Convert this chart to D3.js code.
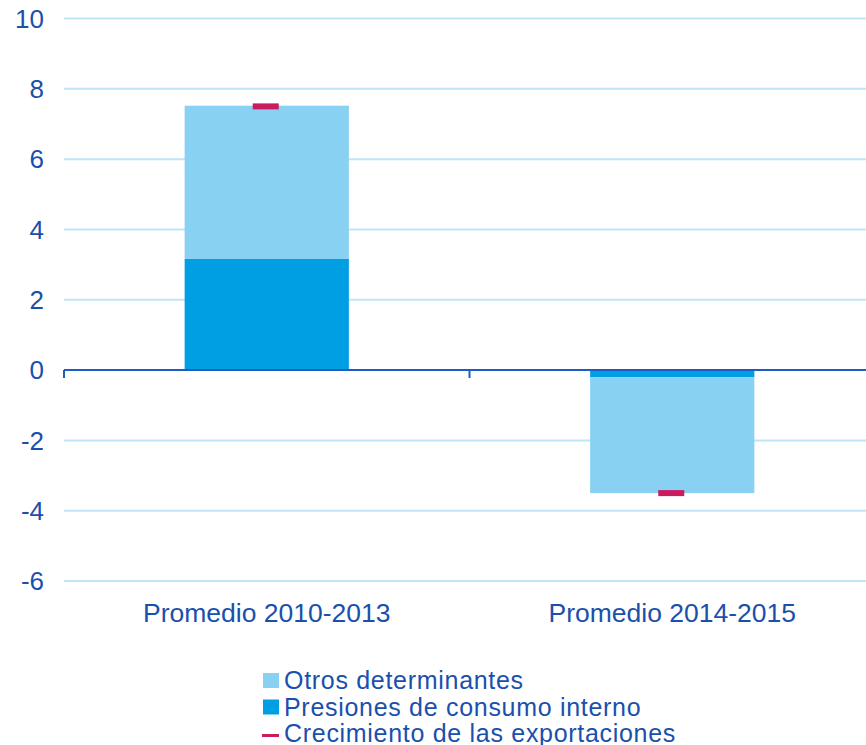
<!DOCTYPE html>
<html>
<head>
<meta charset="utf-8">
<script src="https://cdn.jsdelivr.net/npm/d3@7"></script>
<style>
  html, body { margin: 0; padding: 0; background: #fff; }
  svg { display: block; }
  text { font-family: "Liberation Sans", Arial, sans-serif; fill: #1A50AC; }
</style>
</head>
<body>
<svg id="chart" width="866" height="745"></svg>
<script>
// ---- data ----
const categories = ["Promedio 2010-2013", "Promedio 2014-2015"];
const presiones = [3.16, -0.2];          // Presiones de consumo interno
const otros = [4.36, -3.3];              // Otros determinantes
const exportaciones = [7.5, -3.5];       // Crecimiento de las exportaciones
const yTicks = [-6, -4, -2, 0, 2, 4, 6, 8, 10];
const legendLabels = ["Otros determinantes", "Presiones de consumo interno", "Crecimiento de las exportaciones"];

// ---- styles ----
const C_LIGHT = "#89D1F3", C_DARK = "#009FE3", C_MARK = "#CC1A5E";
const C_GRID = "#BEE6F8", C_AXIS = "#1F5CC0";

const svg = d3.select("#chart");
const W = 866;

const y = d3.scaleLinear().domain([-6, 10]).range([581, 18.5]);
const x = d3.scaleBand().domain(categories).range([64, 875]).padding(0);
const barW = x.bandwidth() * 0.405;

// gridlines
svg.append("g").selectAll("line").data(yTicks.filter(d => d !== 0)).join("line")
  .attr("x1", 64).attr("x2", W)
  .attr("y1", d => y(d)).attr("y2", d => y(d))
  .attr("stroke", C_GRID).attr("stroke-width", 2);

// y tick labels
svg.append("g").selectAll("text").data(yTicks).join("text")
  .attr("x", 44).attr("y", d => y(d))
  .attr("dy", "0.36em")
  .attr("text-anchor", "end")
  .style("font-size", "26px")
  .text(d => d);

// stacked bars
const stackData = categories.map((c, i) => {
  const p = presiones[i], o = otros[i];
  return { c, segs: [
    { y0: 0, y1: p, col: C_DARK },
    { y0: p, y1: p + o, col: C_LIGHT }
  ]};
});
const g = svg.append("g");
stackData.forEach(s => {
  g.selectAll(null).data(s.segs).join("rect")
    .attr("x", x(s.c) + (x.bandwidth() - barW) / 2)
    .attr("width", barW)
    .attr("y", d => y(Math.max(d.y0, d.y1)))
    .attr("height", d => Math.abs(y(d.y0) - y(d.y1)))
    .attr("fill", d => d.col);
});

// export markers
const mW = 26;
svg.append("g").selectAll("rect").data(categories).join("rect")
  .attr("x", d => x(d) + x.bandwidth() / 2 - mW / 2 - 1)
  .attr("width", mW)
  .attr("y", (d, i) => y(exportaciones[i]) - 3)
  .attr("height", 6)
  .attr("fill", C_MARK);

// zero axis
const ax = svg.append("g");
ax.append("line").attr("x1", 64).attr("x2", W).attr("y1", y(0)).attr("y2", y(0))
  .attr("stroke", C_AXIS).attr("stroke-width", 2);
const bounds = categories.map(c => x(c)).concat([x.range()[1]]);
ax.selectAll("line.tk").data(bounds).join("line").attr("class", "tk")
  .attr("x1", d => d).attr("x2", d => d)
  .attr("y1", y(0)).attr("y2", y(0) + 8)
  .attr("stroke", C_AXIS).attr("stroke-width", 2);

// x labels
svg.append("g").selectAll("text").data(categories).join("text")
  .attr("x", d => x(d) + x.bandwidth() / 2)
  .attr("y", 622)
  .attr("text-anchor", "middle")
  .style("font-size", "26.5px")
  .text(d => d);

// legend
const lg = svg.append("g");
const rowY = [689, 715.5, 742];
const legCols = [C_LIGHT, C_DARK, C_MARK];
legendLabels.forEach((t, i) => {
  if (i < 2) {
    lg.append("rect").attr("x", 263).attr("y", rowY[i] - 16).attr("width", 16).attr("height", 15)
      .attr("fill", legCols[i]);
  } else {
    lg.append("rect").attr("x", 262).attr("y", rowY[i] - 8).attr("width", 17).attr("height", 3)
      .attr("fill", legCols[i]);
  }
  lg.append("text").attr("x", 284).attr("y", rowY[i])
    .style("font-size", "25px").style("letter-spacing", "0.7px")
    .text(t);
});
</script>
</body>
</html>
